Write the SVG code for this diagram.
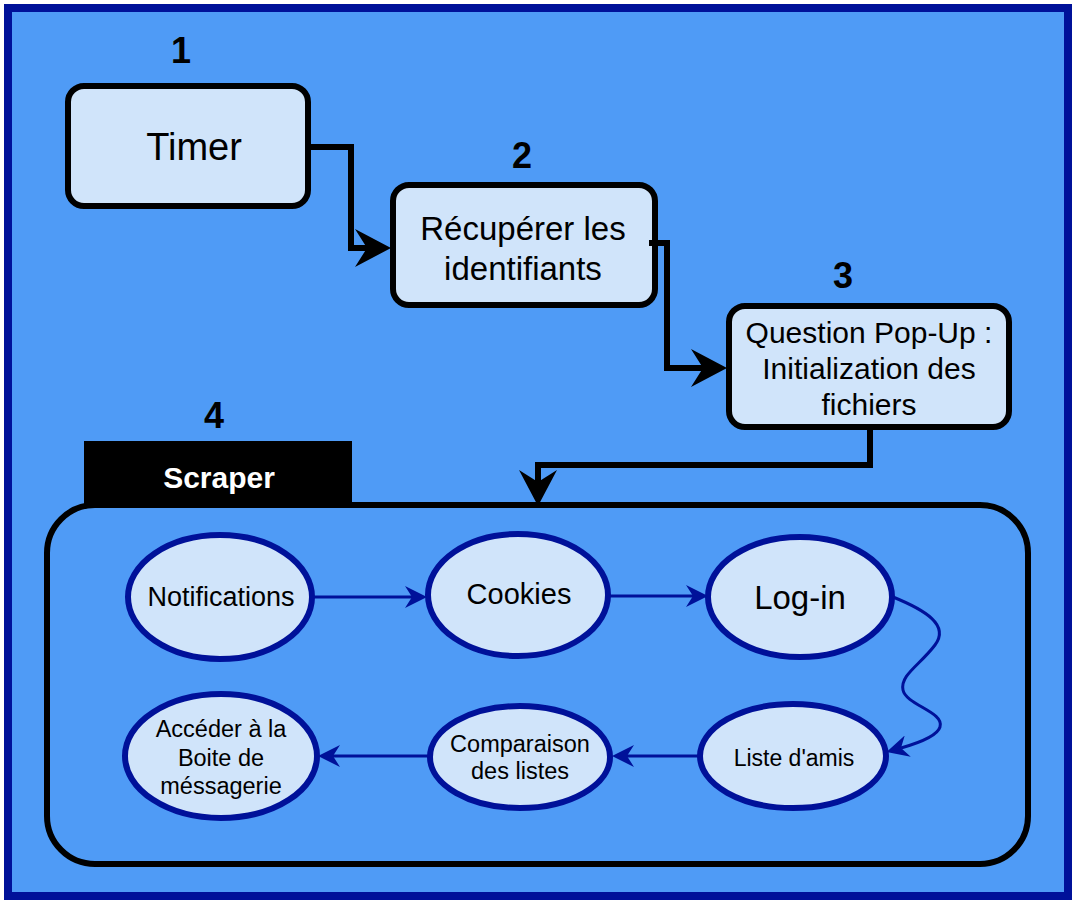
<svg xmlns="http://www.w3.org/2000/svg" width="1078" height="902" viewBox="0 0 1078 902">
<style>
text{font-family:"Liberation Sans",Arial,sans-serif;text-anchor:middle;fill:#000}
.box{fill:#D0E4FA;stroke:#000;stroke-width:6}
.ell{fill:#D0E4FA;stroke:#001199;stroke-width:6}
.num{font-size:36px;font-weight:bold}
.thick{fill:none;stroke:#000;stroke-width:6}
.thin{fill:none;stroke:#001199;stroke-width:3}
</style>
<defs>
<marker id="bigArrow" markerUnits="userSpaceOnUse" viewBox="0 0 36 38" markerWidth="36" markerHeight="38" refX="12" refY="19" orient="auto">
<path d="M0,0 L36,19 L0,38 L12,19 Z" fill="#000"/>
</marker>
<marker id="blueArrow" markerUnits="userSpaceOnUse" viewBox="0 0 22 22" markerWidth="22" markerHeight="22" refX="7" refY="11" orient="auto">
<path d="M0,0 L22,11 L0,22 L7,11 Z" fill="#001199"/>
</marker>
</defs>
<rect x="8" y="8" width="1060" height="888" fill="#4F9BF6" stroke="#001199" stroke-width="8"/>

<g id="label1"><text class="num" x="181" y="63">1</text></g>
<g id="label2"><text class="num" x="522" y="168">2</text></g>
<g id="label3"><text class="num" x="843" y="288">3</text></g>
<g id="label4"><text class="num" x="214" y="428">4</text></g>

<g id="timer">
<rect class="box" x="68" y="86" width="240" height="120" rx="16"/>
<text x="194" y="160" font-size="38">Timer</text>
</g>
<g id="recuperer">
<rect class="box" x="393" y="185" width="262" height="120" rx="16"/>
<text x="523" y="240" font-size="33">Récupérer les</text>
<text x="523" y="280" font-size="33">identifiants</text>
</g>
<g id="question">
<rect class="box" x="729" y="306" width="280" height="121" rx="16"/>
<text x="869" y="343" font-size="30">Question Pop-Up :</text>
<text x="869" y="379" font-size="30">Initialization des</text>
<text x="869" y="415" font-size="30">fichiers</text>
</g>

<g id="scraper">
<path d="M84,505 L84,441 L352,441 L352,505 Z" fill="#000"/>
<rect x="47" y="505" width="981" height="359" rx="48" fill="none" stroke="#000" stroke-width="6"/>
<text x="219" y="488" font-size="30" font-weight="bold" style="fill:#fff">Scraper</text>
</g>

<g id="notifications">
<ellipse class="ell" cx="220" cy="597" rx="92" ry="62"/>
<text x="221" y="606" font-size="27">Notifications</text>
</g>
<g id="cookies">
<ellipse class="ell" cx="518" cy="595" rx="90" ry="61"/>
<text x="519" y="604" font-size="29">Cookies</text>
</g>
<g id="login">
<ellipse class="ell" cx="800" cy="597" rx="92" ry="60"/>
<text x="800" y="609" font-size="33">Log-in</text>
</g>
<g id="liste">
<ellipse class="ell" cx="793" cy="756" rx="93" ry="52"/>
<text x="794" y="766" font-size="23">Liste d'amis</text>
</g>
<g id="comparaison">
<ellipse class="ell" cx="520" cy="757" rx="90" ry="51"/>
<text x="520" y="752" font-size="23.5">Comparaison</text>
<text x="520" y="779" font-size="23.5">des listes</text>
</g>
<g id="acceder">
<ellipse class="ell" cx="221" cy="756" rx="96" ry="62"/>
<text x="221" y="737" font-size="23.5">Accéder à la</text>
<text x="221" y="766" font-size="23.5">Boite de</text>
<text x="221" y="794" font-size="23.5">méssagerie</text>
</g>

<g id="connectors">
<path class="thick" d="M310,147 L351,147 L351,248 L367,248" marker-end="url(#bigArrow)"/>
<path class="thick" d="M649,243 L667,243 L667,368 L703,368" marker-end="url(#bigArrow)"/>
<path class="thick" d="M870,428 L870,465 L538,465 L538,482" marker-end="url(#bigArrow)"/>
<path class="thin" d="M313,597 L412,597" marker-end="url(#blueArrow)"/>
<path class="thin" d="M609,596 L693,596" marker-end="url(#blueArrow)"/>
<path class="thin" d="M893,597 C925,610 950,625 935,645 C920,665 900,675 903,690 C906,705 945,712 940,727 C937,737 915,744 901,748" marker-end="url(#blueArrow)"/>
<path class="thin" d="M700,756 L627,756" marker-end="url(#blueArrow)"/>
<path class="thin" d="M430,756 L333,756" marker-end="url(#blueArrow)"/>
</g>
</svg>
